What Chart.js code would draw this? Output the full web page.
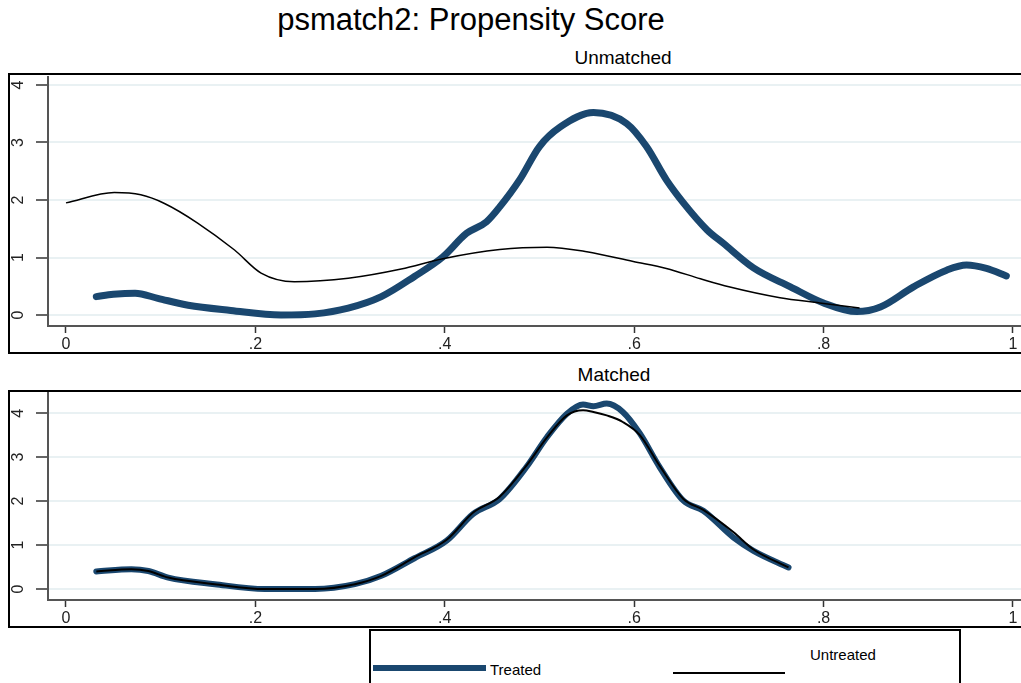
<!DOCTYPE html>
<html>
<head>
<meta charset="utf-8">
<script src="https://cdn.jsdelivr.net/npm/chart.js@4.4.1/dist/chart.umd.min.js"></script>
<style>
  html, body { margin: 0; padding: 0; background: #fff; overflow: hidden; width: 1021px; height: 683px; }
  body { position: relative; font-family: "Liberation Sans", Arial, sans-serif; color: #000; }
  .abs { position: absolute; }
  .box { position: absolute; border: 2px solid #000; box-sizing: border-box; }
  .ttl { position: absolute; transform: translateX(-50%); white-space: nowrap; line-height: 1; }
</style>
</head>
<body>
<div class="ttl" style="left:471px; top:4px; font-size:31px;">psmatch2: Propensity Score</div>
<div class="ttl" style="left:623px; top:48px; font-size:19px;">Unmatched</div>
<div class="ttl" style="left:614px; top:365px; font-size:19px;">Matched</div>

<div class="abs" style="left:8px; top:74px; width:1040px; height:278px;"><canvas id="topChart"></canvas></div>
<div class="abs" style="left:8px; top:391px; width:1040px; height:235px;"><canvas id="botChart"></canvas></div>

<div class="box" style="left:8px; top:73px; width:1030px; height:281px;"></div>
<div class="box" style="left:8px; top:390px; width:1030px; height:238px;"></div>

<div class="box" style="left:369px; top:629px; width:592px; height:70px;"></div>
<div class="abs" style="left:373px; top:665px; width:113px; height:6px; background:#1a476f;"></div>
<div class="abs" style="left:490px; top:661px; font-size:15px;">Treated</div>
<div class="abs" style="left:673px; top:672px; width:112px; height:2px; background:#000;"></div>
<div class="abs" style="left:810px; top:646px; font-size:15px;">Untreated</div>

<script>
// tick values / labels
const xTicks = [0, 0.2, 0.4, 0.6, 0.8, 1];
const xTickLabels = ['0', '.2', '.4', '.6', '.8', '1'];
const yTicks = [0, 1, 2, 3, 4];

// Unmatched: treated
const unTreatedX = [0.032, 0.05, 0.073, 0.097, 0.129, 0.174, 0.227, 0.263, 0.298, 0.333, 0.368, 0.398, 0.423, 0.444, 0.458, 0.479, 0.5, 0.522, 0.557, 0.592, 0.613, 0.634, 0.652, 0.677, 0.694, 0.726, 0.765, 0.8, 0.835, 0.86, 0.895, 0.93, 0.951, 0.972, 0.993];
const unTreatedY = [0.32, 0.36, 0.38, 0.29, 0.17, 0.08, 0.0, 0.02, 0.12, 0.32, 0.67, 1.01, 1.42, 1.62, 1.88, 2.35, 2.93, 3.27, 3.52, 3.33, 2.93, 2.35, 1.95, 1.48, 1.25, 0.82, 0.49, 0.21, 0.06, 0.14, 0.49, 0.78, 0.87, 0.81, 0.68];
// Unmatched: untreated
const unControlX = [0.0, 0.051, 0.079, 0.104, 0.139, 0.178, 0.206, 0.241, 0.298, 0.354, 0.398, 0.458, 0.508, 0.55, 0.599, 0.634, 0.67, 0.7, 0.754, 0.796, 0.838];
const unControlY = [1.95, 2.13, 2.09, 1.94, 1.6, 1.13, 0.73, 0.58, 0.64, 0.8, 0.98, 1.14, 1.18, 1.1, 0.93, 0.81, 0.63, 0.49, 0.3, 0.21, 0.12];

// Matched: treated
const mTreatedX = [0.032, 0.069, 0.087, 0.108, 0.157, 0.21, 0.263, 0.305, 0.333, 0.368, 0.402, 0.43, 0.458, 0.486, 0.508, 0.529, 0.546, 0.557, 0.571, 0.588, 0.606, 0.627, 0.652, 0.673, 0.705, 0.726, 0.763];
const mTreatedY = [0.40, 0.45, 0.41, 0.26, 0.11, 0.0, 0.0, 0.11, 0.30, 0.70, 1.10, 1.71, 2.05, 2.77, 3.46, 3.99, 4.2, 4.16, 4.22, 4.03, 3.54, 2.77, 2.01, 1.78, 1.17, 0.87, 0.49];
// Matched: untreated
const mControlX = [0.032, 0.069, 0.087, 0.108, 0.157, 0.21, 0.263, 0.305, 0.333, 0.368, 0.402, 0.43, 0.458, 0.486, 0.508, 0.529, 0.546, 0.557, 0.571, 0.588, 0.606, 0.627, 0.652, 0.673, 0.705, 0.726, 0.763];
const mControlY = [0.40, 0.45, 0.41, 0.26, 0.11, 0.0, 0.0, 0.11, 0.30, 0.72, 1.12, 1.74, 2.1, 2.8, 3.45, 3.95, 4.07, 4.03, 3.95, 3.8, 3.5, 2.8, 2.05, 1.8, 1.29, 0.9, 0.49];

const pts = (xs, ys) => xs.map((x, i) => ({ x, y: ys[i] }));

// rotated y labels, Stata style
const yLabels = {
  id: 'yLabels',
  afterDraw(chart) {
    const s = chart.scales.y, ctx = chart.ctx;
    ctx.save();
    ctx.font = '16px "Liberation Sans", Arial';
    ctx.fillStyle = '#222';
    ctx.textAlign = 'center';
    ctx.textBaseline = 'middle';
    yTicks.forEach(v => {
      ctx.save();
      ctx.translate(11, s.getPixelForValue(v));
      ctx.rotate(-Math.PI / 2);
      ctx.fillText(String(v), 0, 0);
      ctx.restore();
    });
    ctx.restore();
  }
};

function makeChart(id, control, treated, yMin, yMax, padTop, thick) {
  return new Chart(document.getElementById(id).getContext('2d'), {
    type: 'line',
    data: {
      datasets: [
        { label: 'Untreated', data: control, borderColor: '#000', borderWidth: thick ? 2 : 1.5,
          pointRadius: 0, cubicInterpolationMode: 'monotone', fill: false },
        { label: 'Treated', data: treated, borderColor: '#1a476f', borderWidth: thick ? 6 : 7,
          borderCapStyle: 'round', pointRadius: 0, cubicInterpolationMode: 'monotone', fill: false }
      ]
    },
    options: {
      responsive: true,
      maintainAspectRatio: false,
      animation: false,
      layout: { padding: { top: padTop, left: 0, right: 0, bottom: 0 } },
      plugins: { legend: { display: false }, tooltip: { enabled: false } },
      scales: {
        x: {
          type: 'linear',
          min: -0.019, max: 1.037,
          afterBuildTicks: s => { s.ticks = xTicks.map(v => ({ value: v })); },
          afterFit: s => { s.height = 26; },
          grid: { drawOnChartArea: false, tickLength: 7, tickColor: '#333', tickWidth: 1.5 },
          border: { color: '#555', width: 2 },
          ticks: {
            padding: 2, color: '#222', font: { size: 16, family: '"Liberation Sans", Arial' },
            maxRotation: 0, autoSkip: false,
            callback: v => xTickLabels[xTicks.indexOf(v)] ?? ''
          }
        },
        y: {
          min: yMin, max: yMax,
          afterBuildTicks: s => { s.ticks = yTicks.map(v => ({ value: v })); },
          afterFit: s => { s.width = 40; },
          grid: { color: '#e9f1f3', lineWidth: 2, tickLength: 12, tickColor: '#333', tickWidth: 1.5 },
          border: { color: '#555', width: 2 },
          ticks: { display: false }
        }
      }
    },
    plugins: [yLabels]
  });
}

makeChart('topChart', pts(unControlX, unControlY), pts(unTreatedX, unTreatedY), -0.191, 4.139, 3, false);
makeChart('botChart', pts(mControlX, mControlY), pts(mTreatedX, mTreatedY), -0.25, 4.46, 2, true);
</script>
</body>
</html>
